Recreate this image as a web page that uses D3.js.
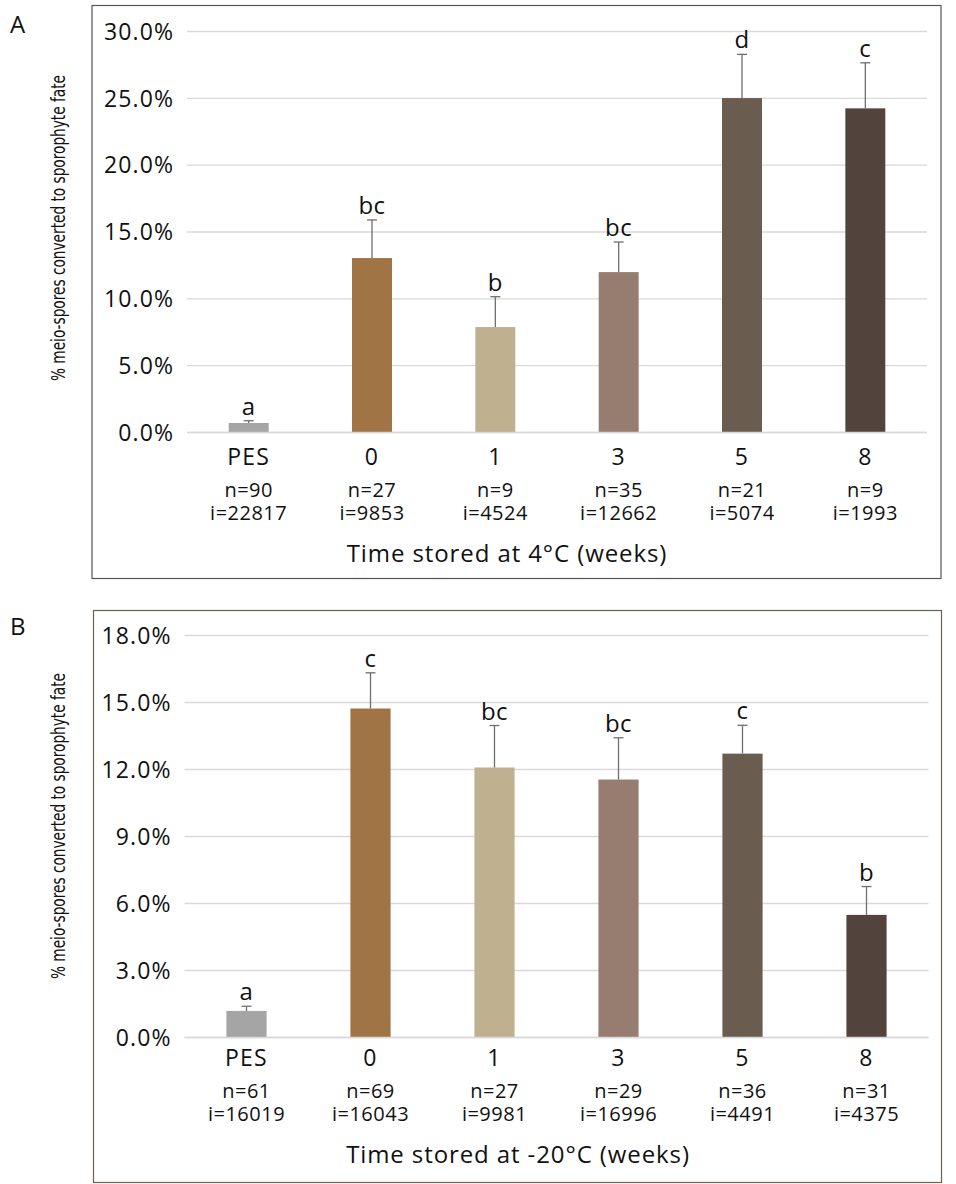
<!DOCTYPE html>
<html>
<head>
<meta charset="utf-8">
<script src="https://cdn.jsdelivr.net/npm/d3@7"></script>
<style>
  html, body { margin: 0; padding: 0; background: #fff; }
  svg { display: block; }
  text { font-family: "Open Sans", "DejaVu Sans", sans-serif; fill: #111; }
  .ytitle { font-family: "Liberation Sans Narrow", "DejaVu Sans Condensed", "Roboto", sans-serif; }
</style>
</head>
<body>
<svg id="chart" width="956" height="1184"></svg>
<script>
// ---------- DATA ----------
const categories = ["PES", "0", "1", "3", "5", "8"];
const barColors = ["#a5a5a5", "#a07444", "#bfb18f", "#977d70", "#6a5d4f", "#52433c"];

// Panel A: stored at 4°C
const meansA   = [0.71, 13.05, 7.89, 12.0, 25.02, 24.25];   // %
const errA     = [0.17, 2.85, 2.27, 2.25, 3.27, 3.41];      // upper error, %
const lettersA = ["a", "bc", "b", "bc", "d", "c"];
const nA       = [90, 27, 9, 35, 21, 9];
const iA       = [22817, 9853, 4524, 12662, 5074, 1993];
const ticksA   = [0, 5, 10, 15, 20, 25, 30];

// Panel B: stored at -20°C
const meansB   = [1.19, 14.73, 12.09, 11.55, 12.71, 5.49];
const errB     = [0.21, 1.60, 1.88, 1.87, 1.27, 1.27];
const lettersB = ["a", "c", "bc", "bc", "c", "b"];
const nB       = [61, 69, 27, 29, 36, 31];
const iB       = [16019, 16043, 9981, 16996, 4491, 4375];
const ticksB   = [0, 3, 6, 9, 12, 15, 18];

const yTitle = "% meio-spores converted to sporophyte fate";
const xTitleA = "Time stored at 4°C (weeks)";
const xTitleB = "Time stored at -20°C (weeks)";

// ---------- DRAW ----------
const svg = d3.select("#chart");

function drawPanel(cfg) {
  const g = svg.append("g");

  // frame
  g.append("rect")
    .attr("x", cfg.box[0]).attr("y", cfg.box[1])
    .attr("width", cfg.box[2]).attr("height", cfg.box[3])
    .attr("fill", "none").attr("stroke", cfg.frameColor).attr("stroke-width", 1.2);

  // panel letter
  g.append("text").attr("x", 10).attr("y", cfg.letterY)
    .style("font-size", "24px").text(cfg.letter);

  const x = d3.scaleBand().domain(categories).range(cfg.xRange).paddingInner(0.676).paddingOuter(0.338);
  const y = d3.scaleLinear().domain([0, cfg.ticks[cfg.ticks.length - 1]]).range(cfg.yRange);

  // gridlines
  g.append("g").selectAll("line").data(cfg.ticks).join("line")
    .attr("x1", cfg.xRange[0]).attr("x2", cfg.xRange[1])
    .attr("y1", d => y(d)).attr("y2", d => y(d))
    .attr("stroke", "#d9d9d9").attr("stroke-width", 1.3);

  // y tick labels
  g.append("g").selectAll("text").data(cfg.ticks).join("text")
    .attr("x", cfg.xRange[0] - 13).attr("y", d => y(d))
    .attr("dy", "0.36em").attr("text-anchor", "end")
    .style("font-size", "23px").style("letter-spacing", "1.1px")
    .text(d => d.toFixed(1) + "%");

  // bars
  const data = categories.map((c, k) => ({ c, m: cfg.means[k], e: cfg.err[k], l: cfg.letters[k], n: cfg.n[k], i: cfg.i[k], col: barColors[k] }));
  g.append("g").selectAll("rect").data(data).join("rect")
    .attr("x", d => x(d.c)).attr("width", x.bandwidth())
    .attr("y", d => y(d.m)).attr("height", d => y(0) - y(d.m))
    .attr("fill", d => d.col);

  // baseline over bars
  g.append("line").attr("x1", cfg.xRange[0]).attr("x2", cfg.xRange[1])
    .attr("y1", y(0)).attr("y2", y(0)).attr("stroke", "#d9d9d9").attr("stroke-width", 1.6);

  // error bars
  const eb = g.append("g").attr("stroke", "#6f6f6f").attr("stroke-width", 1.3);
  eb.selectAll("line.v").data(data).join("line").attr("class", "v")
    .attr("x1", d => x(d.c) + x.bandwidth() / 2).attr("x2", d => x(d.c) + x.bandwidth() / 2)
    .attr("y1", d => y(d.m)).attr("y2", d => y(d.m + d.e));
  eb.selectAll("line.h").data(data).join("line").attr("class", "h")
    .attr("x1", d => x(d.c) + x.bandwidth() / 2 - 5).attr("x2", d => x(d.c) + x.bandwidth() / 2 + 5)
    .attr("y1", d => y(d.m + d.e)).attr("y2", d => y(d.m + d.e));

  // significance letters
  g.append("g").selectAll("text").data(data).join("text")
    .attr("x", d => x(d.c) + x.bandwidth() / 2).attr("y", d => y(d.m + d.e) - 6)
    .attr("text-anchor", "middle").style("font-size", "24px").style("letter-spacing", "0.5px")
    .text(d => d.l);

  // x tick labels
  const cx = d => x(d.c) + x.bandwidth() / 2;
  g.append("g").selectAll("text").data(data).join("text")
    .attr("x", cx).attr("y", cfg.catY).attr("text-anchor", "middle")
    .style("font-size", "23px").style("letter-spacing", "1.2px").text(d => d.c);

  // n / i counts (two lines in one text element)
  const ni = g.append("g").selectAll("text").data(data).join("text")
    .attr("text-anchor", "middle")
    .style("font-size", "20px").style("letter-spacing", "0.5px");
  ni.append("tspan").attr("x", cx).attr("y", cfg.catY + 31.5).text(d => "n=" + d.n);
  ni.append("tspan").attr("x", cx).attr("y", cfg.catY + 54.5).text(d => "i=" + d.i);

  // x title
  g.append("text").attr("x", cfg.xTitleX).attr("y", cfg.xTitleY).attr("text-anchor", "middle")
    .style("font-size", "24px").style("letter-spacing", "0.9px").text(cfg.xTitle);

  // y title
  g.append("text").attr("class", "ytitle")
    .attr("transform", `translate(65,${cfg.yTitleY}) rotate(-90)`)
    .attr("text-anchor", "middle").style("font-size", "19px")
    .attr("textLength", 306).attr("lengthAdjust", "spacingAndGlyphs")
    .text(yTitle);
}

drawPanel({
  letter: "A", letterY: 32.5, box: [92, 5.5, 849, 573], frameColor: "#555555",
  xRange: [187, 927], yRange: [432.5, 31.5], ticks: ticksA,
  means: meansA, err: errA, letters: lettersA, n: nA, i: iA,
  catY: 465, xTitle: xTitleA, xTitleX: 507, xTitleY: 562.3, yTitleY: 228
});

drawPanel({
  letter: "B", letterY: 634.5, box: [93.5, 610.5, 848, 572], frameColor: "#6e5f57",
  xRange: [184.5, 928.5], yRange: [1037.5, 635.5], ticks: ticksB,
  means: meansB, err: errB, letters: lettersB, n: nB, i: iB,
  catY: 1066, xTitle: xTitleB, xTitleX: 518, xTitleY: 1162.7, yTitleY: 826
});
</script>
</body>
</html>
